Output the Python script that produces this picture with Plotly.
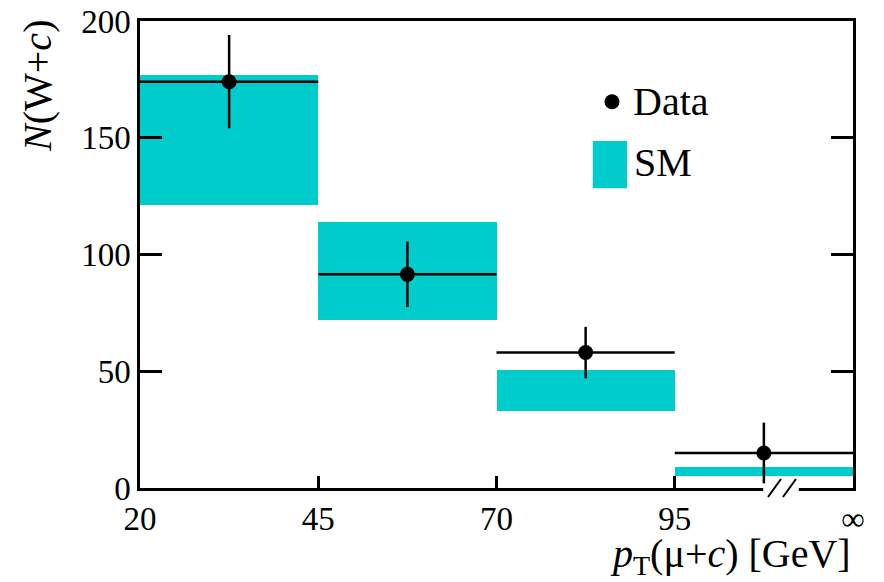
import plotly.graph_objects as go

# ---- data ----
bin_lo = [20, 45, 70, 95]
bin_hi = [45, 70, 95, 120]          # 120 plotted position stands for "∞"
data_n = [174, 91.5, 58, 15]
data_err = [20, 14, 11, 13]
sm_lo = [121, 72, 33, 5]
sm_hi = [177, 114, 50.5, 9]
tick_vals = [20, 45, 70, 95, 120]
tick_text = ["20", "45", "70", "95", "∞"]
y_ticks = [0, 50, 100, 150, 200]

centers = [(a + b) / 2 for a, b in zip(bin_lo, bin_hi)]
half_w = [(b - a) / 2 for a, b in zip(bin_lo, bin_hi)]
widths = [b - a for a, b in zip(bin_lo, bin_hi)]
sm_h = [h - l for l, h in zip(sm_lo, sm_hi)]

FONT = "Liberation Serif, Times New Roman, Times, serif"
CYAN = "#00CCCC"

fig = go.Figure()
fig.add_trace(go.Bar(
    x=centers, y=sm_h, base=sm_lo, width=widths,
    marker=dict(color=CYAN, line=dict(width=0)),
    showlegend=False, hoverinfo="skip",
))
fig.add_trace(go.Scatter(
    x=centers, y=data_n, mode="markers",
    marker=dict(color="black", size=15),
    error_x=dict(type="data", array=half_w, color="black", thickness=2.5, width=0),
    error_y=dict(type="data", array=data_err, color="black", thickness=2.5, width=0),
    showlegend=False,
))

shapes = [
    # legend symbols
    dict(type="circle", xref="paper", yref="paper", x0=0.6515, x1=0.6725,
         y0=0.811, y1=0.843, fillcolor="black", line=dict(width=0), layer="above"),
    dict(type="rect", xref="paper", yref="paper", x0=0.635, x1=0.683,
         y0=0.642, y1=0.743, fillcolor=CYAN, line=dict(width=0), layer="above"),
    # axis break
    dict(type="rect", xref="paper", yref="paper", x0=0.874, x1=0.924,
         y0=-0.007, y1=0.005, fillcolor="white", line=dict(width=0), layer="above"),
    dict(type="line", xref="paper", yref="paper", x0=0.8808, x1=0.899,
         y0=-0.0193, y1=0.0193, line=dict(color="black", width=2), layer="above"),
    dict(type="line", xref="paper", yref="paper", x0=0.9018, x1=0.920,
         y0=-0.0193, y1=0.0193, line=dict(color="black", width=2), layer="above"),
]

annotations = [
    dict(text="Data", x=0.689, y=0.827, xref="paper", yref="paper",
         xanchor="left", yanchor="middle", showarrow=False,
         font=dict(family=FONT, size=40, color="black")),
    dict(text="SM", x=0.690, y=0.696, xref="paper", yref="paper",
         xanchor="left", yanchor="middle", showarrow=False,
         font=dict(family=FONT, size=40, color="black")),
    dict(text="<i>p</i><sub>T</sub>(μ+<i>c</i>) [GeV]", x=1.0, y=-0.145,
         xref="paper", yref="paper", xanchor="right", yanchor="middle",
         showarrow=False, font=dict(family=FONT, size=40, color="black")),
    dict(text="<i>N</i>(W+<i>c</i>)", x=-0.143, y=0.861, xref="paper", yref="paper",
         xanchor="center", yanchor="middle", textangle=-90, showarrow=False,
         font=dict(family=FONT, size=40, color="black")),
]

fig.update_layout(
    width=884, height=582,
    margin=dict(l=140, r=31, t=21, b=94, autoexpand=False),
    paper_bgcolor="white", plot_bgcolor="white",
    bargap=0, showlegend=False,
    font=dict(family=FONT, size=33, color="black"),
    shapes=shapes, annotations=annotations,
    xaxis=dict(range=[20, 120], tickvals=tick_vals, ticktext=tick_text,
               ticks="inside", ticklen=12, tickwidth=2.5, tickcolor="black",
               showline=True, linecolor="black", linewidth=2.5, mirror=True,
               showgrid=False, zeroline=False, automargin=False,
               tickfont=dict(family=FONT, size=33, color="black")),
    yaxis=dict(range=[0, 200], tickvals=y_ticks,
               ticks="inside", ticklen=22, tickwidth=2.5, tickcolor="black",
               showline=True, linecolor="black", linewidth=2.5, mirror="ticks",
               showgrid=False, zeroline=False, automargin=False,
               tickfont=dict(family=FONT, size=33, color="black")),
)

fig.write_html("out.html", config={"displayModeBar": False},
               post_script="document.body.style.margin='0';")
